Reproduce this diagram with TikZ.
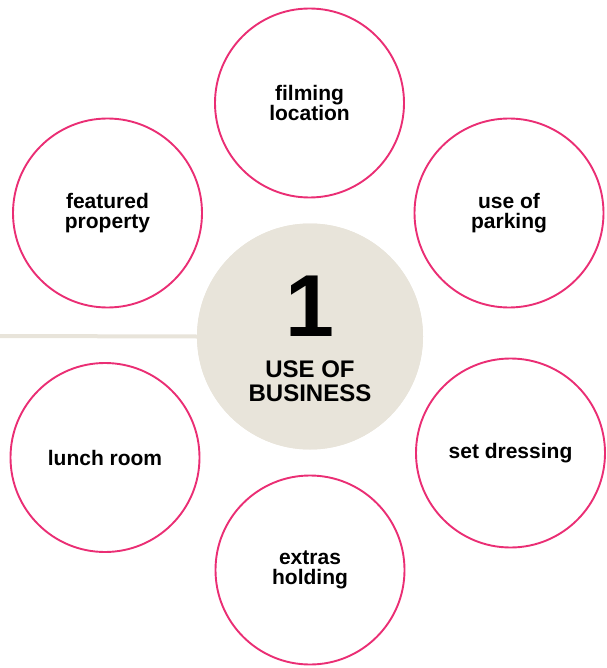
\documentclass[tikz,border=0pt]{standalone}
\usepackage{fontspec}
\setmainfont{Liberation Sans}
\definecolor{pinkline}{RGB}{234,46,116}
\definecolor{beige}{RGB}{232,228,218}
\begin{document}
\begin{tikzpicture}[x=1pt,y=-1pt,
  topic/.style={circle,draw=pinkline,line width=1.9pt,minimum size=189pt,inner sep=0pt,
    align=center,font=\fontsize{21}{20.5}\selectfont\bfseries,text=black},
  hub/.style={circle,fill=beige,minimum size=226pt,inner sep=0pt,align=center},
  link/.style={draw=beige,line width=4pt}]
\useasboundingbox (0,0) rectangle (606,668);
\coordinate (lineend) at (0,336);
\node[hub] (hub) at (310,336.5) {};
\draw[link] (lineend) -- (hub.west);
\node[hub] (hubfill) at (310,336.5) {};
\node (num) at (310,306) {\fontsize{88}{88}\selectfont\bfseries 1};
\node[align=center,font=\fontsize{24}{24}\selectfont\bfseries] (lbl) at (310,381.5) {USE OF\\BUSINESS};
\node[topic] (film) at (309.5,103) {filming\\location};
\node[topic] (park) at (509,213) {use of\\parking};
\node[topic] (feat) at (107.5,213) {featured\\property};
\node[topic] (lunch) at (105,457.5) {lunch room};
\node[topic] (set) at (510.5,453) {set dressing};
\node[topic] (extras) at (310,570) {extras\\holding};
\end{tikzpicture}
\end{document}
